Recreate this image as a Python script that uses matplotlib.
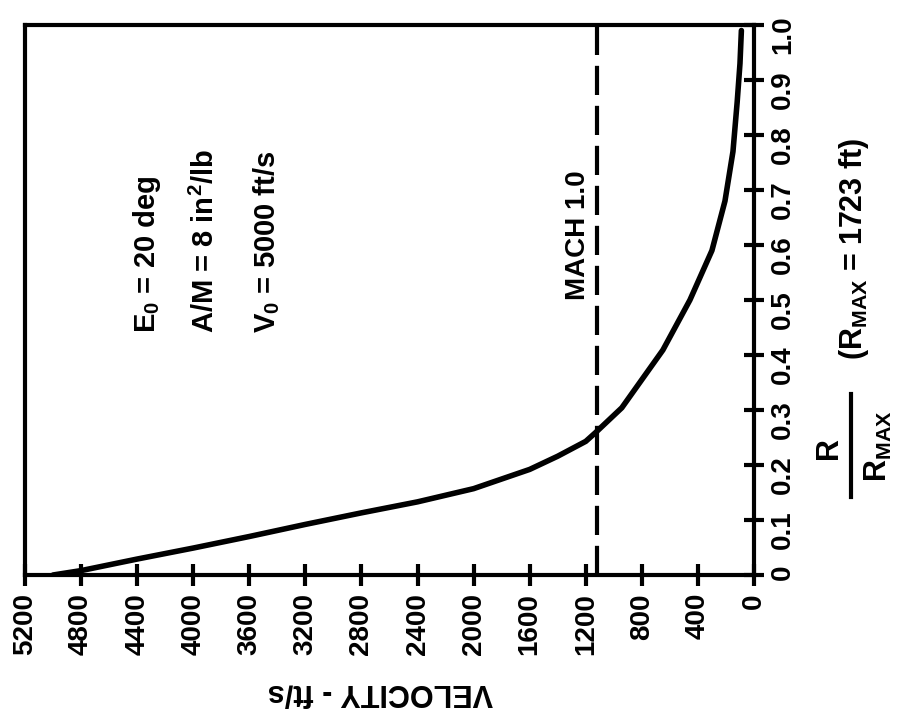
import matplotlib
matplotlib.use("Agg")
import matplotlib.pyplot as plt
from matplotlib.lines import Line2D

# velocity (ft/s) vs normalised range R/Rmax
velocity = [5000, 4800, 4400, 4000, 3600, 3200, 2800, 2400, 2000, 1600,
            1400, 1200, 1130, 943, 650, 457, 300, 207, 150, 120, 100, 90]
r_ratio = [0.0, 0.008, 0.029, 0.049, 0.070, 0.092, 0.113, 0.133, 0.157, 0.192,
           0.216, 0.243, 0.259, 0.304, 0.409, 0.5, 0.59, 0.68, 0.77, 0.86, 0.93, 0.99]

mach_1 = 1120  # ft/s
vel_ticks = [5200, 4800, 4400, 4000, 3600, 3200, 2800, 2400, 2000, 1600, 1200, 800, 400, 0]
vel_labels = ["5200", "4800", "4400", "4000", "3600", "3200", "2800", "2400",
              "2000", "1600", "1200", "800", "400", "0"]
r_ticks = [0.0, 0.1, 0.2, 0.3, 0.4, 0.5, 0.6, 0.7, 0.8, 0.9, 1.0]
r_labels = ["0", "0.1", "0.2", "0.3", "0.4", "0.5", "0.6", "0.7", "0.8", "0.9", "1.0"]

plt.rcParams["font.family"] = ["Liberation Sans", "DejaVu Sans"]
plt.rcParams["font.weight"] = "bold"
plt.rcParams["mathtext.fontset"] = "custom"
plt.rcParams["mathtext.rm"] = "Liberation Sans:bold"
plt.rcParams["mathtext.it"] = "Liberation Sans:bold"
plt.rcParams["mathtext.bf"] = "Liberation Sans:bold"
plt.rcParams["mathtext.default"] = "rm"

W, H = 908, 724
fig = plt.figure(figsize=(W / 100, H / 100), dpi=100)
ax = fig.add_axes([25 / W, 1 - 575 / H, (754 - 25) / W, (575 - 25) / H])

# chart is printed turned on its side: velocity runs right-to-left along the bottom
ax.plot(velocity, r_ratio, color="black", linewidth=4, solid_capstyle="round",
        solid_joinstyle="round")
ax.axvline(mach_1, color="black", linewidth=3, dashes=(7, 2.6))

ax.set_xlim(5200, 0)
ax.set_ylim(0, 1.0)
ax.set_xticks(vel_ticks)
ax.set_xticklabels(vel_labels)
ax.yaxis.tick_right()
ax.set_yticks(r_ticks)
ax.set_yticklabels(r_labels)

for spine in ax.spines.values():
    spine.set_linewidth(3)
ax.tick_params(axis="x", direction="inout", length=16, width=3, pad=5,
               labelrotation=90, labelsize=20)
ax.tick_params(axis="y", direction="inout", length=15, width=3, pad=4,
               labelrotation=90, labelsize=20)

# parameter block
ax.text(0.167, 0.44, "E$_0$ = 20 deg", transform=ax.transAxes, rotation=90,
        ha="center", va="bottom", fontsize=21)
ax.text(0.247, 0.44, "A/M = 8 in$^2$/lb", transform=ax.transAxes, rotation=90,
        ha="center", va="bottom", fontsize=21)
ax.text(0.332, 0.44, "V$_0$ = 5000 ft/s", transform=ax.transAxes, rotation=90,
        ha="center", va="bottom", fontsize=21)
ax.text(0.758, 0.5, "MACH 1.0", transform=ax.transAxes, rotation=90,
        ha="center", va="bottom", fontsize=20)

# axis titles, also turned
fig.text(380 / W, 1 - 693 / H, "VELOCITY - ft/s", rotation=180,
         ha="center", va="center", fontsize=22)
fig.text(829 / W, 1 - 448 / H, "R", rotation=90, ha="center", va="center", fontsize=22)
fig.add_artist(Line2D([851 / W, 851 / W], [1 - 394 / H, 1 - 497 / H],
                      color="black", linewidth=3, transform=fig.transFigure))
fig.text(878 / W, 1 - 446 / H, "R$_{MAX}$", rotation=90, ha="center", va="center",
         fontsize=22)
fig.text(854 / W, 1 - 249 / H, "(R$_{MAX}$ = 1723 ft)", rotation=90,
         ha="center", va="center", fontsize=22)

fig.savefig("out.png", dpi=100, facecolor="white")
plt.close(fig)
